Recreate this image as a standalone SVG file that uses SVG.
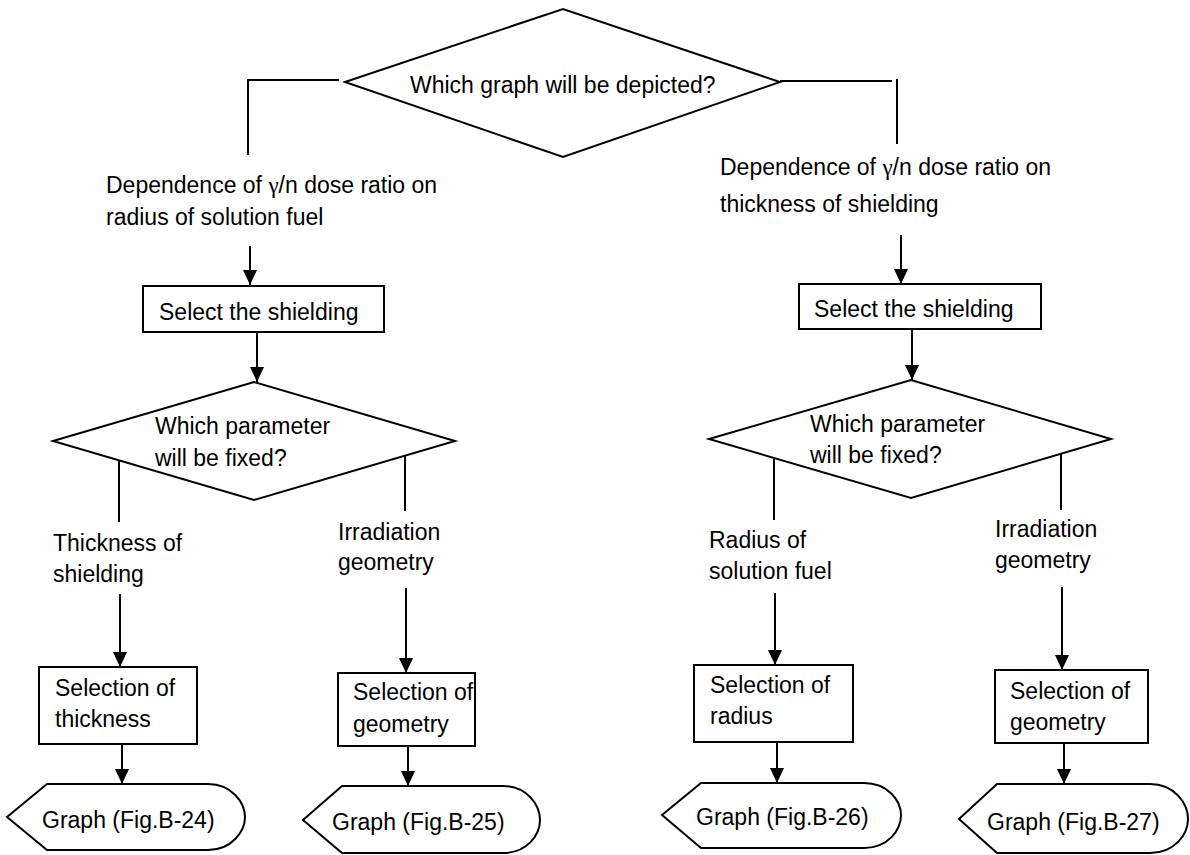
<svg xmlns="http://www.w3.org/2000/svg" width="1190" height="855" viewBox="0 0 1190 855">
<style>
  .shape { fill: #ffffff; stroke: #000000; stroke-width: 2; }
  .line { fill: none; stroke: #000000; stroke-width: 2; }
  .arrow { fill: none; stroke: #000000; stroke-width: 2; marker-end: url(#ah); }
  text { font-family: "Liberation Sans", Arial, sans-serif; font-size: 23px; fill: #000000; }
  .g { font-family: "Liberation Serif", "Times New Roman", serif; }
</style>
<defs>
  <marker id="ah" markerUnits="userSpaceOnUse" markerWidth="14" markerHeight="14" refX="15" refY="7" orient="auto">
    <path d="M0,0 L15,7 L0,14 Z" fill="#000000"/>
  </marker>
</defs>
<rect x="0" y="0" width="1190" height="855" fill="#ffffff"/>

<g id="connectors">
  <path class="line" d="M248,155 V80 H339"/>
  <line class="line" x1="780" y1="81" x2="892" y2="81"/>
  <line class="line" x1="897" y1="79" x2="897" y2="144"/>
  <line class="arrow" x1="250" y1="246" x2="250" y2="285"/>
  <line class="arrow" x1="257" y1="332" x2="257" y2="382"/>
  <line class="line" x1="119" y1="461" x2="119" y2="522"/>
  <line class="line" x1="405" y1="455" x2="405" y2="511"/>
  <line class="arrow" x1="120" y1="594" x2="120" y2="667"/>
  <line class="arrow" x1="122" y1="744" x2="122" y2="784"/>
  <line class="arrow" x1="406" y1="588" x2="406" y2="673"/>
  <line class="arrow" x1="408" y1="746" x2="408" y2="786"/>
  <line class="arrow" x1="901" y1="235" x2="901" y2="284"/>
  <line class="arrow" x1="912" y1="329" x2="912" y2="380"/>
  <line class="line" x1="774" y1="459" x2="774" y2="520"/>
  <line class="line" x1="1061" y1="453" x2="1061" y2="510"/>
  <line class="arrow" x1="775" y1="593" x2="775" y2="665"/>
  <line class="arrow" x1="777" y1="742" x2="777" y2="783"/>
  <line class="arrow" x1="1062" y1="587" x2="1062" y2="670"/>
  <line class="arrow" x1="1064" y1="743" x2="1064" y2="784"/>
</g>

<g id="q-graph">
  <polygon class="shape" points="345,82 563,9 780,82 563,157"/>
  <text x="410" y="93">Which graph will be depicted?</text>
</g>

<g id="label-radius-dep">
  <text x="106" y="193">Dependence of <tspan class="g">γ</tspan>/n dose ratio on</text>
  <text x="106" y="225">radius of solution fuel</text>
</g>
<g id="label-thick-dep">
  <text x="720" y="175">Dependence of <tspan class="g">γ</tspan>/n dose ratio on</text>
  <text x="720" y="212">thickness of shielding</text>
</g>

<g id="select-shield-left">
  <rect class="shape" x="143" y="286" width="241" height="46"/>
  <text x="159" y="320">Select the shielding</text>
</g>
<g id="select-shield-right">
  <rect class="shape" x="799" y="284" width="242" height="45"/>
  <text x="814" y="317">Select the shielding</text>
</g>

<g id="q-param-left">
  <polygon class="shape" points="53,441 254,382 455,441 254,500"/>
  <text x="155" y="434">Which parameter</text>
  <text x="155" y="466">will be fixed?</text>
</g>
<g id="q-param-right">
  <polygon class="shape" points="709,439 911,380 1111,439 911,498"/>
  <text x="810" y="432">Which parameter</text>
  <text x="810" y="463">will be fixed?</text>
</g>

<g id="label-thickness">
  <text x="53" y="551">Thickness of</text>
  <text x="53" y="582">shielding</text>
</g>
<g id="label-irr-left">
  <text x="338" y="540">Irradiation</text>
  <text x="338" y="570">geometry</text>
</g>
<g id="label-radius">
  <text x="709" y="548">Radius of</text>
  <text x="709" y="579">solution fuel</text>
</g>
<g id="label-irr-right">
  <text x="995" y="537">Irradiation</text>
  <text x="995" y="568">geometry</text>
</g>

<g id="sel-thickness">
  <rect class="shape" x="39" y="667" width="158" height="77"/>
  <text x="55" y="696">Selection of</text>
  <text x="55" y="727">thickness</text>
</g>
<g id="sel-geometry-left">
  <rect class="shape" x="338" y="673" width="137" height="73"/>
  <text x="353" y="700">Selection of</text>
  <text x="353" y="732">geometry</text>
</g>
<g id="sel-radius">
  <rect class="shape" x="694" y="665" width="159" height="77"/>
  <text x="710" y="693">Selection of</text>
  <text x="710" y="724">radius</text>
</g>
<g id="sel-geometry-right">
  <rect class="shape" x="995" y="670" width="153" height="73"/>
  <text x="1010" y="699">Selection of</text>
  <text x="1010" y="730">geometry</text>
</g>

<g id="graph-b24">
  <path class="shape" d="M7,817 L47,784 L208,784 C232,784 245,803 245,817 C245,831 232,850 208,850 L47,850 Z"/>
  <text x="42" y="828">Graph (Fig.B-24)</text>
</g>
<g id="graph-b25">
  <path class="shape" d="M303,820 L342,786 L503,786 C527,786 540,805 540,820 C540,835 527,853 503,853 L342,853 Z"/>
  <text x="332" y="830">Graph (Fig.B-25)</text>
</g>
<g id="graph-b26">
  <path class="shape" d="M662,815 L701,783 L864,783 C888,783 901,801 901,815 C901,830 888,848 864,848 L701,848 Z"/>
  <text x="696" y="825">Graph (Fig.B-26)</text>
</g>
<g id="graph-b27">
  <path class="shape" d="M959,819 L997,784 L1150,784 C1175,784 1188,804 1188,819 C1188,834 1175,853 1150,853 L997,853 Z"/>
  <text x="987" y="830">Graph (Fig.B-27)</text>
</g>
</svg>
